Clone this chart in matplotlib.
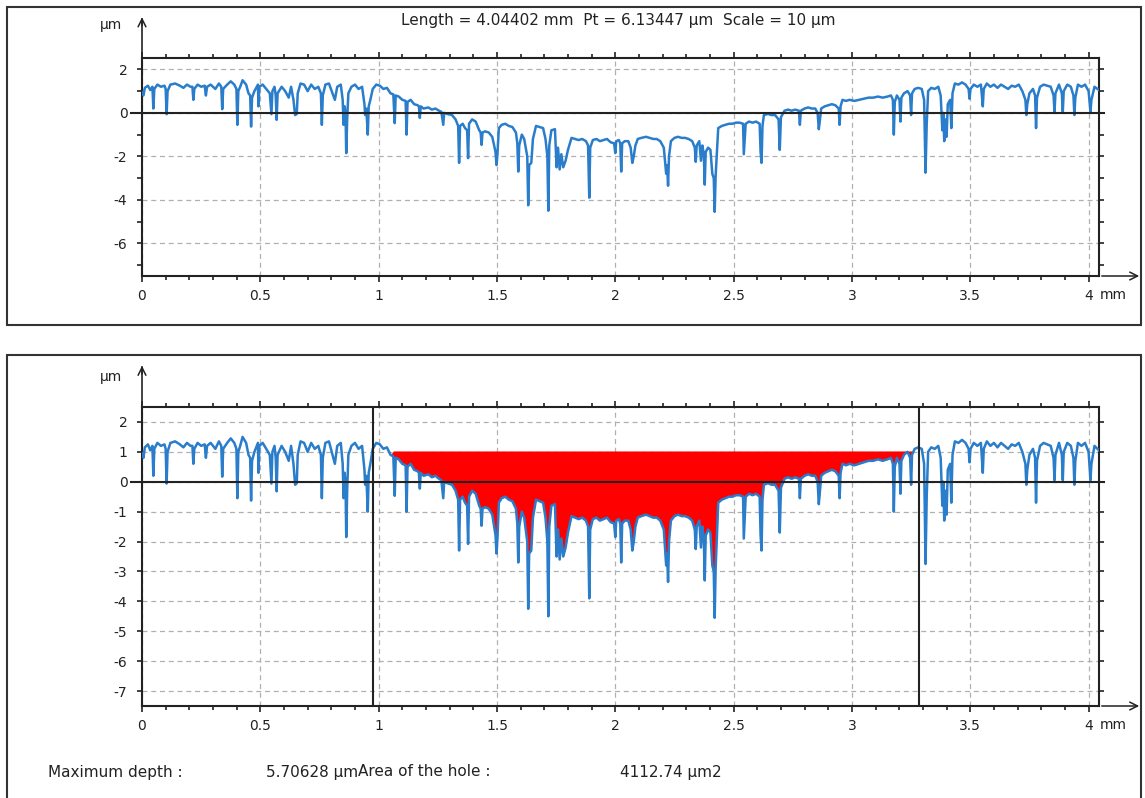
import numpy as np
import matplotlib.pyplot as plt
from matplotlib.patches import Rectangle

plt.rcParams['font.family'] = ['DejaVu Sans']
plt.rcParams['axes.unicode_minus'] = False

W, H = 1145, 798

# profile (x in mm, height in um)
profile_x = [
    0.000, 0.006, 0.012, 0.025, 0.035, 0.044, 0.048, 0.052, 0.065, 0.080, 0.095, 0.100, 0.104, 0.108,
    0.120, 0.140, 0.160, 0.175, 0.190, 0.205, 0.213, 0.217, 0.221, 0.235, 0.250, 0.265, 0.270, 0.275,
    0.290, 0.310, 0.325, 0.335, 0.339, 0.343, 0.360, 0.375, 0.390, 0.399, 0.403, 0.407, 0.415, 0.425,
    0.440, 0.450, 0.457, 0.461, 0.465, 0.475, 0.490, 0.492, 0.496, 0.510, 0.525, 0.540, 0.547, 0.551,
    0.560, 0.565, 0.569, 0.573, 0.590, 0.605, 0.620, 0.630, 0.640, 0.647, 0.654, 0.658, 0.670, 0.685,
    0.700, 0.715, 0.730, 0.745, 0.756, 0.760, 0.764, 0.775, 0.790, 0.805, 0.815, 0.825, 0.840, 0.848,
    0.852, 0.856, 0.860, 0.863, 0.867, 0.872, 0.885, 0.900, 0.915, 0.930, 0.940, 0.943, 0.948, 0.954,
    0.958, 0.965, 0.975, 0.990, 1.005,
    1.020, 1.035, 1.050, 1.062, 1.068, 1.072, 1.085, 1.100, 1.114, 1.118, 1.122, 1.135, 1.150, 1.165,
    1.170, 1.174, 1.178, 1.190, 1.210, 1.225, 1.240, 1.255, 1.265, 1.273, 1.277, 1.290, 1.310, 1.325,
    1.336, 1.340, 1.344, 1.355, 1.365, 1.374, 1.378, 1.382, 1.395, 1.410, 1.425, 1.431, 1.435, 1.439,
    1.450, 1.465, 1.480, 1.490, 1.494, 1.498, 1.502, 1.508, 1.520, 1.535, 1.550, 1.565, 1.580, 1.586,
    1.590, 1.594, 1.605, 1.615, 1.628, 1.632, 1.636, 1.645, 1.652, 1.665, 1.680, 1.695, 1.705, 1.713,
    1.717, 1.721, 1.730, 1.745, 1.752, 1.758, 1.765, 1.772, 1.780, 1.790, 1.800, 1.815, 1.830, 1.845,
    1.860, 1.876, 1.885, 1.890, 1.894, 1.905, 1.920, 1.935, 1.950, 1.965, 1.980, 1.995, 2.000, 2.004,
    2.015, 2.021, 2.025, 2.029, 2.040, 2.055, 2.065, 2.072, 2.078, 2.085, 2.095, 2.110, 2.130, 2.145,
    2.160, 2.175, 2.190, 2.205, 2.215, 2.219, 2.223, 2.227, 2.235, 2.250, 2.265, 2.280, 2.295, 2.310,
    2.325, 2.336, 2.340, 2.344, 2.355, 2.362, 2.368, 2.374, 2.378, 2.382, 2.392, 2.402, 2.410, 2.416,
    2.420, 2.424, 2.430, 2.435, 2.450, 2.465, 2.480, 2.495, 2.510, 2.525, 2.540, 2.543, 2.551, 2.565,
    2.580, 2.595, 2.610, 2.614, 2.618, 2.622, 2.628, 2.645, 2.660, 2.675, 2.690, 2.695, 2.700, 2.715,
    2.730, 2.745, 2.760, 2.776, 2.780, 2.784, 2.800, 2.815, 2.830, 2.845, 2.855, 2.860, 2.865, 2.870,
    2.885, 2.900, 2.915, 2.930, 2.944, 2.948, 2.952, 2.960, 2.975, 2.990,
    3.010, 3.030, 3.050, 3.070, 3.090, 3.110, 3.130, 3.150, 3.165, 3.173, 3.177, 3.181, 3.190, 3.201,
    3.205, 3.209, 3.220, 3.235, 3.246, 3.250, 3.254, 3.265, 3.280, 3.295, 3.305, 3.311, 3.316, 3.322,
    3.335, 3.350, 3.365, 3.375, 3.382, 3.386, 3.390, 3.395, 3.400, 3.405, 3.415, 3.420, 3.425, 3.435,
    3.450, 3.465, 3.480, 3.493, 3.497, 3.501, 3.515, 3.530, 3.545, 3.553, 3.557, 3.570, 3.585, 3.600,
    3.615, 3.630, 3.645, 3.660, 3.675, 3.690, 3.705, 3.720, 3.733, 3.737, 3.741, 3.750, 3.765, 3.774,
    3.778, 3.782, 3.795, 3.810, 3.825, 3.840, 3.852, 3.856, 3.860, 3.875, 3.887, 3.891, 3.895, 3.910,
    3.925, 3.936, 3.940, 3.944, 3.955, 3.970, 3.985, 4.000, 4.004, 4.008, 4.012, 4.025, 4.044,
]
profile_y = [
    0.95, 0.80, 1.15, 1.25, 1.05, 1.20, 0.20, 1.10, 1.30, 1.20, 1.25, 1.10, -0.06, 1.00,
    1.30, 1.35, 1.25, 1.15, 1.30, 1.20, 1.20, 0.60, 1.10, 1.30, 1.20, 1.25, 0.80, 1.20,
    1.30, 1.10, 1.35, 1.20, 0.17, 1.10, 1.30, 1.45, 1.30, 1.10, -0.55, 1.00, 1.20, 1.50,
    1.30, 0.90, 0.80, -0.63, 0.70, 1.00, 1.30, 0.30, 1.20, 1.30, 1.10, 0.90, -0.06, 1.00,
    1.20, 0.80, -0.32, 0.90, 1.20, 1.00, 0.70, 1.20, 0.60, -0.10, -0.05, 0.90, 1.35, 1.30,
    1.00, 1.30, 1.10, 1.20, 0.90, -0.55, 0.80, 1.30, 1.35, 0.90, 0.60, 1.20, 1.30, 0.60,
    -0.55, 0.30, 0.00, -1.85, -0.30, 0.90, 1.20, 1.30, 1.10, 1.20, 0.40, -0.10, 0.20, -1.00,
    0.30, 0.60, 1.10, 1.30, 1.25,
    1.10, 1.15, 0.90, 0.85, -0.47, 0.80, 0.75, 0.60, 0.55, -1.00, 0.50, 0.60, 0.40, 0.35,
    0.30, -0.23, 0.30, 0.20, 0.25, 0.15, 0.20, 0.10, 0.05, -0.55, 0.00, -0.05, -0.10, -0.30,
    -0.60, -2.30, -0.60, -0.50, -0.70, -0.80, -2.08, -0.50, -0.30, -0.40, -0.80, -0.90, -1.47, -0.90,
    -0.85, -0.90, -1.10, -1.60, -1.80, -2.40, -1.90, -0.70, -0.55, -0.50, -0.60, -0.65, -0.90, -1.40,
    -2.70, -1.50, -1.00, -1.20, -2.00, -4.25, -2.40, -2.30, -1.20, -0.60, -0.65, -0.70, -1.20, -2.00,
    -4.50, -1.50, -0.80, -0.75, -2.50, -1.60, -2.60, -1.90, -2.50, -2.20, -1.70, -1.15, -1.20, -1.25,
    -1.20, -1.30, -1.50, -3.90, -1.60, -1.25, -1.20, -1.30, -1.25, -1.20, -1.35, -1.40, -1.85, -1.30,
    -1.25, -1.40, -2.70, -1.40, -1.30, -1.30, -1.60, -2.30, -2.00, -1.50, -1.20, -1.15, -1.10, -1.15,
    -1.20, -1.20, -1.30, -1.60, -2.80, -2.40, -3.35, -2.00, -1.30, -1.15, -1.10, -1.15, -1.15, -1.20,
    -1.30, -1.60, -2.25, -1.50, -1.30, -2.20, -1.50, -1.90, -3.30, -1.80, -1.60, -1.70, -2.80, -3.00,
    -4.55, -2.90, -1.70, -0.70, -0.60, -0.55, -0.50, -0.50, -0.45, -0.45, -0.50, -1.90, -0.50, -0.40,
    -0.45, -0.40, -0.50, -1.80, -2.30, -0.60, -0.10, -0.05, -0.10, -0.10, -0.30, -1.70, -0.20, 0.10,
    0.15, 0.10, 0.15, 0.10, -0.55, 0.10, 0.20, 0.25, 0.20, 0.20, 0.00, -0.75, -0.30, 0.20,
    0.30, 0.35, 0.40, 0.35, 0.20, -0.55, 0.30, 0.60, 0.55, 0.60,
    0.55, 0.60, 0.65, 0.70, 0.70, 0.75, 0.70, 0.75, 0.80, 0.60, -1.00, 0.50, 0.80, 0.60,
    -0.40, 0.70, 0.90, 1.00, 0.80, -0.10, 0.90, 1.10, 1.15, 1.10, 0.60, -2.75, -0.50, 1.00,
    1.15, 1.10, 1.20, 0.80, -0.80, 0.00, -1.30, -0.30, -1.10, 0.40, 0.60, -0.70, 0.90, 1.35,
    1.30, 1.40, 1.30, 1.10, 0.65, 1.10, 1.30, 1.20, 1.30, 0.30, 1.10, 1.35, 1.20, 1.30,
    1.15, 1.30, 1.20, 1.10, 1.25, 1.20, 1.30, 1.00, 0.60, -0.10, 0.40, 0.90, 1.10, 0.80,
    -0.70, 0.70, 1.20, 1.30, 1.25, 1.20, 0.80, 0.05, 0.90, 1.30, 0.90, 0.05, 1.00, 1.30,
    1.20, 0.80, -0.10, 0.70, 1.30, 1.20, 1.30, 1.00, 0.50, 0.05, 0.60, 1.20, 1.05,
]

length_mm = 4.04402
y_lim = (-7.5, 2.5)
cursor_x = [0.977, 3.285]
hole_start, hole_end, hole_level = 1.06, 3.27, 1.03

x_ticks = [0, 0.5, 1, 1.5, 2, 2.5, 3, 3.5, 4]
x_labels = ['0', '0.5', '1', '1.5', '2', '2.5', '3', '3.5', '4']
top_yticks = [-6, -4, -2, 0, 2]
bot_yticks = [-7, -6, -5, -4, -3, -2, -1, 0, 1, 2]

title_txt = 'Length = 4.04402 mm  Pt = 6.13447 µm  Scale = 10 µm'
max_depth = '5.70628 µm'
hole_area = '4112.74 µm2'

blue = '#2a7dcb'
dark = '#222222'
fs = 10     # tick labels
fs_txt = 11  # info texts


def fx(x):
    return x / W


def fy(y):
    return 1 - y / H


def setup(ax, yticks, minor_y):
    ax.set_xlim(0, length_mm)
    ax.set_ylim(*y_lim)
    ax.set_xticks(x_ticks)
    ax.set_xticklabels(x_labels)
    ax.set_xticks(np.arange(0.1, 4.05, 0.1), minor=True)
    ax.set_yticks(yticks)
    ax.set_yticks(minor_y, minor=True)
    ax.tick_params(axis='x', which='major', direction='out', length=4.5, width=1.2,
                   top=True, labelsize=fs, pad=5, colors=dark)
    ax.tick_params(axis='x', which='minor', direction='out', length=3, width=1.2, top=True, colors=dark)
    ax.tick_params(axis='y', which='both', direction='out', length=3.5, width=1.2,
                   right=True, labelsize=fs, pad=7, colors=dark)
    for s in ax.spines.values():
        s.set_linewidth(1.5)
        s.set_color(dark)
    ax.grid(True, which='major', linestyle=(0, (4, 3)), color='#b0b0b0', linewidth=0.9)
    ax.set_axisbelow(True)
    ax.plot([-0.045, 4.065], [0, 0], color=dark, lw=1.5, clip_on=False, zorder=4)


fig = plt.figure(figsize=(W / 100, H / 100), dpi=100)
fig.patch.set_facecolor('white')

# outer frames
fig.add_artist(Rectangle((fx(7), fy(325)), fx(1134), 318 / H, transform=fig.transFigure,
                         fill=False, ec='#333333', lw=1.5))
fig.add_artist(Rectangle((fx(7), fy(810)), fx(1134), 455 / H, transform=fig.transFigure,
                         fill=False, ec='#333333', lw=1.5))

ax1 = fig.add_axes([fx(142), fy(276), (1099 - 142) / W, (276 - 58.5) / H])
ax2 = fig.add_axes([fx(142), fy(706), (1099 - 142) / W, (706 - 407) / H])

setup(ax1, top_yticks, [-7, -5, -3, -1, 1])
setup(ax2, bot_yticks, [])

ax1.plot(profile_x, profile_y, color=blue, lw=1.8, zorder=3)

px = np.array(profile_x)
py = np.array(profile_y)
mask = (px >= hole_start) & (px <= hole_end)
ax2.fill_between(px, py, hole_level, where=mask & (py < hole_level), interpolate=True,
                 color='#ff0000', lw=0, zorder=2)
ax2.plot(profile_x, profile_y, color=blue, lw=1.8, zorder=3)
for cx in cursor_x:
    ax2.axvline(cx, color=dark, lw=1.5, zorder=5)

# axis arrows and unit labels
for top_px, bot_px, lab_y in [(58.5, 276, 25), (407, 706, 377)]:
    fig.add_artist(plt.Line2D([fx(142), fx(142)], [fy(top_px), fy(top_px - 40)],
                              transform=fig.transFigure, color=dark, lw=1.2))
    ax1.annotate('', xy=(142, H - (top_px - 44)), xytext=(142, H - (top_px - 30)),
                 xycoords='figure pixels', textcoords='figure pixels',
                 arrowprops=dict(arrowstyle='->', color=dark, lw=1.1, mutation_scale=14))
    ax1.annotate('', xy=(1142, H - bot_px), xytext=(1099, H - bot_px),
                 xycoords='figure pixels', textcoords='figure pixels',
                 arrowprops=dict(arrowstyle='->', color=dark, lw=1.1, mutation_scale=14))
    fig.text(fx(111), fy(lab_y), 'µm', ha='center', va='center', fontsize=fs, color=dark)
    fig.text(fx(1100), fy(bot_px + 19), 'mm', ha='left', va='center', fontsize=fs, color=dark)

fig.text(fx(618), fy(21), title_txt, ha='center', va='center', fontsize=fs_txt, color=dark)

fig.text(fx(48), fy(772), 'Maximum depth :', ha='left', va='center', fontsize=fs_txt, color=dark)
fig.text(fx(358), fy(772), max_depth, ha='right', va='center', fontsize=fs_txt, color=dark)
fig.text(fx(358), fy(772), 'Area of the hole :', ha='left', va='center', fontsize=fs_txt, color=dark)
fig.text(fx(620), fy(772), hole_area, ha='left', va='center', fontsize=fs_txt, color=dark)

fig.savefig('out.png', dpi=100, facecolor='white')
